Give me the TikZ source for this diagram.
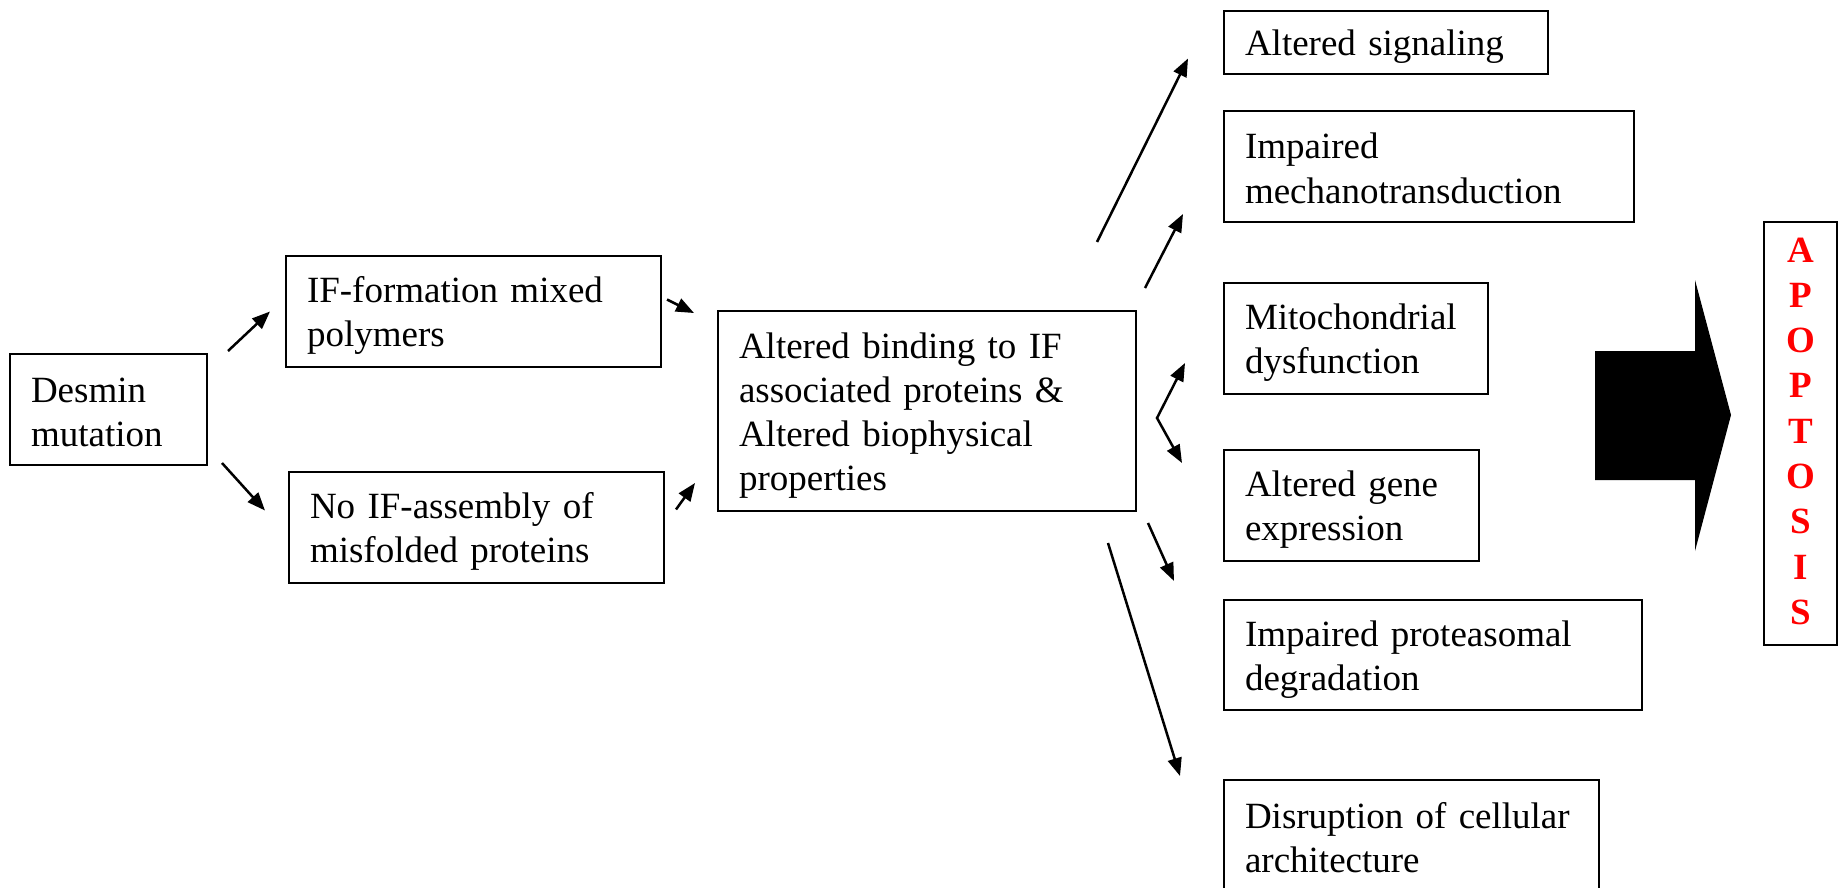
\documentclass[tikz,border=0pt]{standalone}
\usepackage{fontspec}
\setmainfont{Liberation Serif}
\usepackage{xcolor}
\usepackage{tikz}
\usetikzlibrary{arrows.meta,positioning,calc}

\newcommand{\boxfont}{\fontsize{37pt}{44pt}\selectfont}
\newcommand{\linestrut}{\rule[-5pt]{0pt}{39pt}}

\begin{document}
\begin{tikzpicture}[x=1pt, y=-1pt,
box/.style={draw, line width=2pt, outer sep=0pt, anchor=north west, align=left, text width=#1, inner xsep=21pt, inner ysep=0pt, minimum height=111pt, font=\boxfont, execute at begin node=\linestrut, execute at end node=\linestrut},
deathbox/.style={draw, line width=2pt, outer sep=0pt, anchor=north west, align=center, inner sep=0pt, minimum width=73pt, minimum height=423pt, text=red, font=\fontsize{37pt}{45.3pt}\selectfont\bfseries, execute at begin node=\linestrut, execute at end node=\linestrut},
arrow/.style={-{Triangle[length=18pt,width=14pt]}, line width=2.5pt}
]
\useasboundingbox (0,0) rectangle (1839,888);

% left part
\node[box=155pt] (desmin) at (10,354) {Desmin\\mutation};
\node[box=333pt] (mixed) at (286,256) {IF-formation mixed\\polymers};
\node[box=333pt] (noasm) at (289,472) {No IF-assembly of\\misfolded proteins};
\node[box=376pt, minimum height=200pt] (binding) at (718,311) {Altered binding to IF\\associated proteins \&\\Altered biophysical\\properties};

% consequences
\node[box=282pt, minimum height=63pt] (signal) at (1224,11) {Altered signaling};
\node[box=368pt, below=37pt of signal.south west, anchor=north west] (mechano) {Impaired\\mechanotransduction};
\node[box=222pt, below=61pt of mechano.south west, anchor=north west] (mito) {Mitochondrial\\dysfunction};
\node[box=213pt, below=56pt of mito.south west, anchor=north west] (gene) {Altered gene\\expression};
\node[box=376pt, minimum height=110pt, below=39pt of gene.south west, anchor=north west] (proteo) {Impaired proteasomal\\degradation};
\node[box=333pt, below=70pt of proteo.south west, anchor=north west] (disrupt) {Disruption of cellular\\architecture};

\node[deathbox] (apopt) at (1764,222) {A\\P\\O\\P\\T\\O\\S\\I\\S};

% big arrow
\fill (1595,351) -- (1695,351) -- (1695,280) -- (1731,415) -- (1695,551) -- (1695,480) -- (1595,480) -- cycle;

\draw[arrow] ($(desmin.north east)+(21,-3)$) -- ($(mixed.west)+(-16,0)$);
\draw[arrow] ($(desmin.south east)+(15,-2)$) -- ($(noasm.west)+(-24,-17)$);
\draw[arrow] ($(mixed.east)+(6,-12)$) -- ($(binding.north west)+(-24,2)$);
\draw[arrow] ($(noasm.east)+(12,-18)$) -- ($(binding.south west)+(-23,-28)$);
\draw[arrow] ($(binding.north east)+(-39,-69)$) -- ($(signal.west)+(-36,16)$);
\draw[arrow] ($(binding.north east)+(9,-23)$) -- ($(mechano.south west)+(-41,-8)$);
\draw[{Triangle[length=18pt,width=14pt]}-{Triangle[length=18pt,width=14pt]}, line width=2.5pt] ($(mito.south west)+(-39,-31)$) -- ($(binding.east)+(21,7)$) -- ($(gene.north west)+(-42,13)$);
\draw[arrow] ($(binding.south east)+(12,12)$) -- ($(proteo.north west)+(-50,-19)$);
\draw[arrow] ($(binding.south east)+(-28,32)$) -- ($(disrupt.north west)+(-44,-4)$);
\end{tikzpicture}
\end{document}
